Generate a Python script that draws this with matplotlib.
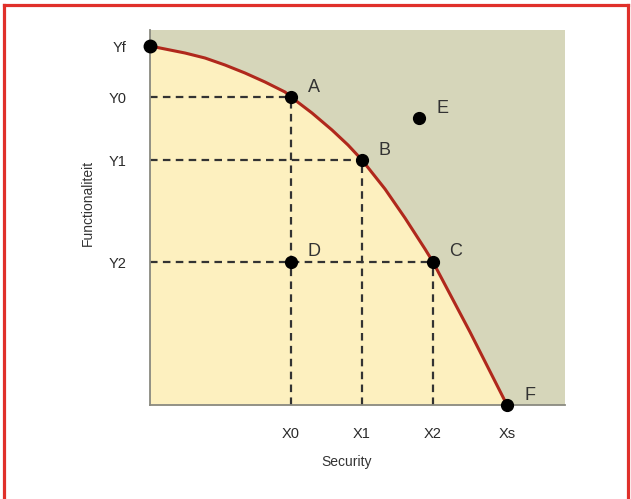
import matplotlib.pyplot as plt
from matplotlib.lines import Line2D

plt.rcParams['font.family'] = ['Liberation Sans', 'DejaVu Sans']

# curve points
curve_x = [0, 15, 35, 55, 75, 95, 115, 135, 141, 162, 182, 198, 212,
           235, 255, 275, 283, 320, 357]
curve_y = [359, 356, 352, 347, 340, 332, 323, 313, 308, 292, 275, 260, 245,
           216, 187, 156, 143, 73, 0]

# labelled points
pt_names = ['A', 'B', 'C', 'D', 'E', 'F']
pt_x = [141, 212, 283, 141, 269, 357]
pt_y = [308, 245, 143, 143, 287, 0]

x_ticks = [141, 212, 283, 357]
x_labels = ['X0', 'X1', 'X2', 'Xs']
y_ticks = [359, 308, 245, 143]
y_labels = ['Yf', 'Y0', 'Y1', 'Y2']

fig = plt.figure(figsize=(6.31, 4.99), dpi=100)
ax = fig.add_axes([150 / 631, 94 / 499, 415 / 631, 375 / 499])
ax.set_xlim(0, 415)
ax.set_ylim(0, 375)
ax.set_facecolor('#d6d6ba')

ax.fill_between(curve_x, 0, curve_y, color='#fdf0bf', lw=0)
ax.plot(curve_x, curve_y, color='#b0281c', lw=2.2, solid_joinstyle='round', zorder=3)

# guide lines
dash = dict(color='#333333', lw=1.6, dashes=(3.4, 2.4), zorder=2)
ax.plot([0, pt_x[0]], [pt_y[0]] * 2, **dash)
ax.plot([0, pt_x[1]], [pt_y[1]] * 2, **dash)
ax.plot([0, pt_x[2]], [pt_y[2]] * 2, **dash)
ax.plot([pt_x[0]] * 2, [0, pt_y[0]], **dash)
ax.plot([pt_x[1]] * 2, [0, pt_y[1]], **dash)
ax.plot([pt_x[2]] * 2, [0, pt_y[2]], **dash)

ax.plot([0], [curve_y[0]], 'o', color='black', ms=9, clip_on=False, zorder=5)
ax.plot(pt_x, pt_y, 'o', color='black', ms=8.5, lw=0, clip_on=False, zorder=5)
for n, x, y in zip(pt_names, pt_x, pt_y):
    ax.annotate(n, (x, y), xytext=(23, 10), textcoords='offset pixels',
                ha='center', va='center', fontsize=13, color='#333333')

for s in ['top', 'right']:
    ax.spines[s].set_visible(False)
for s in ['left', 'bottom']:
    ax.spines[s].set_color('#8a8a80')
    ax.spines[s].set_linewidth(1.3)

ax.set_xticks(x_ticks, x_labels)
ax.set_yticks(y_ticks, y_labels)
ax.tick_params(length=0, labelsize=10.5, labelcolor='#2a2a2a')
ax.tick_params(axis='x', pad=16)
ax.tick_params(axis='y', pad=17)

fig.text(347 / 631, 1 - 462 / 499, 'Security', ha='center', va='center',
         fontsize=10, color='#333333')
fig.text(88 / 631, 1 - 203 / 499, 'Functionaliteit', ha='center', va='center',
         rotation=90, fontsize=10, color='#333333')

# red frame (left, top, right)
red = '#e0302a'
fig.add_artist(Line2D([3.5 / 631, 3.5 / 631], [0, 1 - 4.5 / 499], color=red, lw=2.3))
fig.add_artist(Line2D([3.5 / 631, 628 / 631], [1 - 4.5 / 499] * 2, color=red, lw=2.3))
fig.add_artist(Line2D([628 / 631, 628 / 631], [0, 1 - 4.5 / 499], color=red, lw=2.3))

fig.savefig('out.png', dpi=100)
